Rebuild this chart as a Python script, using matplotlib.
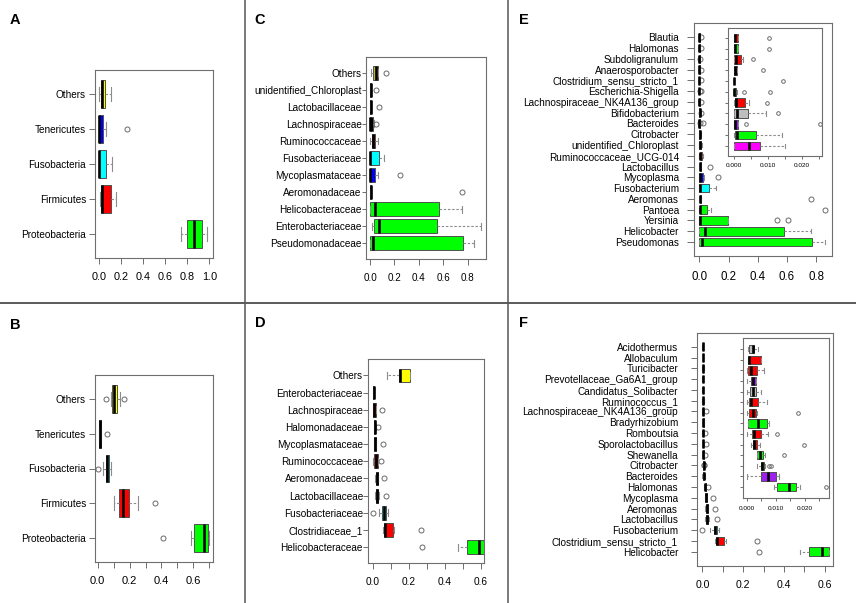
import matplotlib
matplotlib.use('Agg')
import matplotlib.pyplot as plt
from matplotlib.lines import Line2D

plt.rcParams['font.family'] = ['Liberation Sans', 'DejaVu Sans']

W, H = 856, 603
fig = plt.figure(figsize=(W / 100, H / 100), dpi=100)

GRN, RED, BLU, CYA, YEL = '#00FF00', '#FF0000', '#0000FF', '#00FFFF', '#FFFF00'
MAG, PUR, GRY, DRD, BLK, OLV = '#FF00FF', '#A020F0', '#BEBEBE', '#8B0000', '#000000', '#BDB52A'

# ---------------- Panel A (phylum, group 1) ----------------
A_labels = ['Others', 'Tenericutes', 'Fusobacteria', 'Firmicutes', 'Proteobacteria']
A_lo = [0.003, 0.0, 0.0, 0.015, 0.747]
A_q1 = [0.018, 0.0, 0.0, 0.024, 0.795]
A_med = [0.033, 0.003, 0.002, 0.033, 0.861]
A_q3 = [0.057, 0.036, 0.066, 0.111, 0.934]
A_hi = [0.111, 0.066, 0.12, 0.154, 0.98]
A_fl = [[], [0.253], [], [], []]
A_col = [YEL, BLU, CYA, RED, GRN]

# ---------------- Panel B (phylum, group 2) ----------------
B_labels = ['Others', 'Tenericutes', 'Fusobacteria', 'Firmicutes', 'Proteobacteria']
B_lo = [0.086, 0.010, 0.033, 0.102, 0.583]
B_q1 = [0.092, 0.010, 0.052, 0.134, 0.606]
B_med = [0.100, 0.015, 0.061, 0.157, 0.669]
B_q3 = [0.119, 0.023, 0.073, 0.199, 0.694]
B_hi = [0.140, 0.023, 0.086, 0.255, 0.700]
B_fl = [[0.050, 0.165], [0.061], [0.004], [0.362], [0.412]]
B_col = [YEL, BLK, CYA, RED, GRN]

# ---------------- Panel C (family, group 1) ----------------
C_labels = ['Others', 'unidentified_Chloroplast', 'Lactobacillaceae', 'Lachnospiraceae',
            'Ruminococcaceae', 'Fusobacteriaceae', 'Mycoplasmataceae', 'Aeromonadaceae',
            'Helicobacteraceae', 'Enterobacteriaceae', 'Pseudomonadaceae']
C_lo = [0.010, 0.0, 0.002, 0.0, 0.003, 0.0, 0.0, 0.0, 0.0, 0.016, 0.0]
C_q1 = [0.027, 0.0, 0.003, 0.0, 0.019, 0.0, 0.0, 0.002, 0.0, 0.030, 0.0]
C_med = [0.047, 0.004, 0.006, 0.003, 0.027, 0.003, 0.003, 0.005, 0.044, 0.074, 0.027]
C_q3 = [0.063, 0.010, 0.009, 0.022, 0.044, 0.071, 0.044, 0.008, 0.568, 0.552, 0.759]
C_hi = [0.063, 0.012, 0.010, 0.030, 0.066, 0.115, 0.068, 0.010, 0.756, 0.909, 0.855]
C_fl = [[0.130], [0.047], [0.076], [0.050], [], [], [0.248], [0.756], [], [], []]
C_col = [OLV, BLK, BLK, BLK, RED, CYA, BLU, BLK, GRN, GRN, GRN]

# ---------------- Panel D (family, group 2) ----------------
D_labels = ['Others', 'Enterobacteriaceae', 'Lachnospiraceae', 'Halomonadaceae',
            'Mycoplasmataceae', 'Ruminococcaceae', 'Aeromonadaceae', 'Lactobacillaceae',
            'Fusobacteriaceae', 'Clostridiaceae_1', 'Helicobacteraceae']
D_lo = [0.078, 0.002, 0.002, 0.008, 0.009, 0.0, 0.015, 0.015, 0.035, 0.060, 0.476]
D_q1 = [0.146, 0.004, 0.004, 0.009, 0.010, 0.009, 0.017, 0.017, 0.052, 0.065, 0.526]
D_med = [0.154, 0.006, 0.008, 0.011, 0.013, 0.019, 0.024, 0.024, 0.061, 0.070, 0.593]
D_q3 = [0.206, 0.008, 0.017, 0.014, 0.016, 0.028, 0.030, 0.031, 0.076, 0.111, 0.619]
D_hi = [0.206, 0.010, 0.020, 0.016, 0.018, 0.030, 0.032, 0.035, 0.087, 0.119, 0.619]
D_fl = [[], [], [0.052], [0.028], [0.057], [0.048], [0.065], [0.074], [0.0], [0.267], [0.276]]
D_col = [YEL, BLK, RED, BLK, BLK, RED, BLK, BLK, CYA, RED, GRN]

# ---------------- Panel E (genus, group 1); first 11 also in inset ----------------
E_labels = ['Blautia', 'Halomonas', 'Subdoligranulum', 'Anaerosporobacter',
            'Clostridium_sensu_stricto_1', 'Escherichia-Shigella',
            'Lachnospiraceae_NK4A136_group', 'Bifidobacterium', 'Bacteroides', 'Citrobacter',
            'unidentified_Chloroplast', 'Ruminococcaceae_UCG-014', 'Lactobacillus',
            'Mycoplasma', 'Fusobacterium', 'Aeromonas', 'Pantoea', 'Yersinia',
            'Helicobacter', 'Pseudomonas']
E_lo = [0, 0, 0, 0, 0, 0, 0, 0, 0, 0, 0,
        0.0, 0.002, 0.0, 0.0, 0.004, 0.0, 0.0, 0.0, 0.0]
E_q1 = [0, 0.0001, 0, 0.0001, 0, 0, 0.0002, 0, 0, 0.0003, 0,
        0.002, 0.003, 0.0, 0.0, 0.005, 0.002, 0.0, 0.0, 0.0]
E_med = [0.0002, 0.0003, 0.0005, 0.0003, 0.0, 0.0001, 0.0006, 0.0008, 0.0002, 0.0008, 0.0043,
         0.007, 0.005, 0.003, 0.002, 0.007, 0.007, 0.005, 0.037, 0.021]
E_q3 = [0.0010, 0.0010, 0.0021, 0.0008, 0.0001, 0.0006, 0.0033, 0.0040, 0.0010, 0.0064, 0.0077,
        0.021, 0.008, 0.025, 0.066, 0.009, 0.055, 0.194, 0.578, 0.775]
E_hi = [0.0012, 0.0012, 0.0026, 0.0009, 0.0001, 0.0007, 0.0044, 0.0094, 0.0011, 0.0140, 0.0149,
        0.025, 0.010, 0.032, 0.114, 0.010, 0.080, 0.194, 0.768, 0.864]
E_fl = [[0.0102], [0.0102], [0.0056], [0.0084], [0.0143], [0.0028, 0.0105], [0.0096],
        [0.0129], [0.0036, 0.0251], [], [],
        [], [0.075], [0.126], [], [0.768], [0.864], [0.535, 0.610], [], []]
E_col = [RED, GRN, RED, DRD, BLK, GRN, RED, GRY, PUR, GRN, MAG,
         RED, BLK, BLU, CYA, BLK, GRN, GRN, GRN, GRN]
E_n_inset = 11

# ---------------- Panel F (genus, group 2); first 14 also in inset ----------------
F_labels = ['Acidothermus', 'Allobaculum', 'Turicibacter', 'Prevotellaceae_Ga6A1_group',
            'Candidatus_Solibacter', 'Ruminococcus_1', 'Lachnospiraceae_NK4A136_group',
            'Bradyrhizobium', 'Romboutsia', 'Sporolactobacillus', 'Shewanella', 'Citrobacter',
            'Bacteroides', 'Halomonas', 'Mycoplasma', 'Aeromonas', 'Lactobacillus',
            'Fusobacterium', 'Clostridium_sensu_stricto_1', 'Helicobacter']
F_lo = [0.0003, 0.0005, 0.0, 0.0, 0.0, 0.0, 0.0, 0.0005, 0.0002, 0.0014, 0.0035, 0.0035,
        0.0, 0.0095, 0.012, 0.015, 0.015, 0.038, 0.062, 0.479]
F_q1 = [0.0006, 0.0005, 0.0005, 0.0015, 0.0010, 0.0008, 0.0007, 0.0005, 0.0018, 0.0022,
        0.0037, 0.0049, 0.0049, 0.0106, 0.013, 0.017, 0.017, 0.056, 0.065, 0.525]
F_med = [0.0020, 0.0006, 0.0014, 0.0020, 0.0020, 0.0014, 0.0020, 0.0040, 0.0026, 0.0026,
         0.0045, 0.0054, 0.0074, 0.0145, 0.016, 0.021, 0.021, 0.062, 0.070, 0.587]
F_q3 = [0.0026, 0.0048, 0.0034, 0.0031, 0.0032, 0.0038, 0.0032, 0.0069, 0.0049, 0.0036,
        0.0055, 0.0060, 0.0101, 0.0170, 0.021, 0.026, 0.029, 0.074, 0.108, 0.620]
F_hi = [0.0039, 0.0049, 0.0061, 0.0032, 0.0050, 0.0070, 0.0034, 0.0078, 0.0072, 0.0044,
        0.0062, 0.0062, 0.0113, 0.0184, 0.022, 0.028, 0.031, 0.083, 0.118, 0.620]
F_fl = [[], [], [], [], [], [], [0.0177], [], [0.0105], [0.0199], [0.0128], [0.0078, 0.0085],
        [], [0.0275], [0.052], [0.064], [0.072], [0.0], [0.270], [0.280]]
F_col = [GRY, RED, RED, PUR, GRY, RED, RED, GRN, RED, RED, GRN, GRN, PUR, GRN,
         BLU, BLK, BLK, CYA, RED, GRN]
F_n_inset = 14


def rect(x0, y0, x1, y1):
    return [x0 / W, 1 - y1 / H, (x1 - x0) / W, (y1 - y0) / H]


FRAME = '#6E6E6E'


def boxpanel(r, labels, lo, q1, med, q3, hi, fl, cols, xlim, xticks, xlabels,
             ysize=7.2, xsize=7.5, ylen=4.0, ypad=2.0, xlen=4.0, xpad=5.5,
             show_ylabels=True, fl_ms=3.6):
    ax = fig.add_axes(rect(*r))
    n = len(labels)
    pos = list(range(n, 0, -1))
    stats = [dict(whislo=lo[i], q1=q1[i], med=med[i], q3=q3[i], whishi=hi[i],
                  fliers=fl[i]) for i in range(n)]
    bp = ax.bxp(stats, positions=pos, orientation='horizontal', widths=0.8,
                capwidths=0.4, patch_artist=True, manage_ticks=False,
                boxprops=dict(edgecolor='#505050', linewidth=0.7),
                medianprops=dict(color='black', linewidth=1.9, solid_capstyle='butt'),
                whiskerprops=dict(color='#8C8C8C', linewidth=0.8, linestyle=(0, (2.2, 1.6))),
                capprops=dict(color='#8C8C8C', linewidth=0.8),
                flierprops=dict(marker='o', markerfacecolor='none',
                                markeredgecolor='#6A6A6A', markersize=fl_ms,
                                markeredgewidth=0.7))
    for patch, c in zip(bp['boxes'], cols):
        patch.set_facecolor(c)
    ax.set_ylim(0.5 - 0.04 * n, n + 0.5 + 0.04 * n)
    ax.set_xlim(*xlim)
    ax.set_yticks(pos)
    if show_ylabels:
        ax.set_yticklabels(labels, fontsize=ysize)
    else:
        ax.set_yticklabels([])
    ax.set_xticks(xticks)
    ax.set_xticklabels(xlabels, fontsize=xsize)
    ax.tick_params(axis='y', length=ylen, pad=ypad, width=0.7, color=FRAME)
    ax.tick_params(axis='x', length=xlen, pad=xpad, width=0.7, color=FRAME)
    for s in ax.spines.values():
        s.set_color(FRAME)
        s.set_linewidth(0.8)
    return ax


def ticks_lbl(vals, every):
    return [('%.1f' % v) if i % every == 0 else '' for i, v in enumerate(vals)]


t02 = [0.0, 0.2, 0.4, 0.6, 0.8, 1.0]
t01_7 = [0.0, 0.1, 0.2, 0.3, 0.4, 0.5, 0.6, 0.7]
t01_6 = [0.0, 0.1, 0.2, 0.3, 0.4, 0.5, 0.6]
t02_8 = [0.0, 0.2, 0.4, 0.6, 0.8]

boxpanel((95, 70, 213.3, 258), A_labels, A_lo, A_q1, A_med, A_q3, A_hi, A_fl, A_col,
         (-0.033, 1.036), t02, ticks_lbl(t02, 1), xsize=7.8, ylen=4.3, ypad=2.2, xpad=5.8)
boxpanel((95, 375, 213.3, 562), B_labels, B_lo, B_q1, B_med, B_q3, B_hi, B_fl, B_col,
         (-0.017, 0.725), t01_7, ticks_lbl(t01_7, 2), xsize=8.0, ylen=4.3, ypad=2.2, xpad=6.3)
boxpanel((366, 56.7, 485.7, 259.3), C_labels, C_lo, C_q1, C_med, C_q3, C_hi, C_fl, C_col,
         (-0.033, 0.947), t02_8, ticks_lbl(t02_8, 1), xsize=7.1, ylen=2.9, ypad=0.3, xpad=5.6)
boxpanel((368.3, 359.3, 484.3, 563.3), D_labels, D_lo, D_q1, D_med, D_q3, D_hi, D_fl, D_col,
         (-0.024, 0.62), t01_6, ticks_lbl(t01_6, 2), xsize=7.3, ylen=3.6, ypad=0.3, xpad=6.2)
boxpanel((694, 23.3, 831.7, 256), E_labels, E_lo, E_q1, E_med, E_q3, E_hi, E_fl, E_col,
         (-0.037, 0.907), t02_8, ticks_lbl(t02_8, 1), xsize=8.3, ylen=5.0, ypad=5.8, xpad=7.0)
boxpanel((696.7, 332.7, 833.3, 565.7), F_labels, F_lo, F_q1, F_med, F_q3, F_hi, F_fl, F_col,
         (-0.028, 0.642), t01_6, ticks_lbl(t01_6, 2), xsize=7.6, ylen=4.0, ypad=9.4, xpad=6.5)

tin = [0.0, 0.005, 0.010, 0.015, 0.020, 0.025]
tin_lbl = ['0.000', '', '0.010', '', '0.020', '']
k = E_n_inset
boxpanel((728, 27.7, 822, 156), E_labels[:k], E_lo[:k], E_q1[:k], E_med[:k], E_q3[:k],
         E_hi[:k], E_fl[:k], E_col[:k], (-0.0018, 0.0258), tin, tin_lbl,
         xsize=4.6, ylen=2.2, ypad=1, xlen=2.2, xpad=3.0, show_ylabels=False, fl_ms=2.6)
k = F_n_inset
boxpanel((743.3, 338, 829.3, 498.3), F_labels[:k], F_lo[:k], F_q1[:k], F_med[:k], F_q3[:k],
         F_hi[:k], F_fl[:k], F_col[:k], (-0.0012, 0.0285), tin, tin_lbl,
         xsize=4.6, ylen=2.2, ypad=1, xlen=2.2, xpad=3.0, show_ylabels=False, fl_ms=2.6)

# panel letters
for letter, (px, py) in zip('ABCDEF', [(15, 20), (15, 324.5), (260, 20), (260, 323),
                                       (523.5, 20), (523.5, 323)]):
    fig.text(px / W, 1 - py / H, letter, fontsize=10.5, fontweight='bold',
             ha='center', va='center')

# panel dividers
for xv in (245, 508):
    fig.add_artist(Line2D([xv / W, xv / W], [0, 1], color='#7A7A7A', linewidth=1.4))
fig.add_artist(Line2D([0, 1], [1 - 302.7 / H, 1 - 302.7 / H], color='#5A5A5A', linewidth=1.4))

fig.savefig('out.png', dpi=100)
